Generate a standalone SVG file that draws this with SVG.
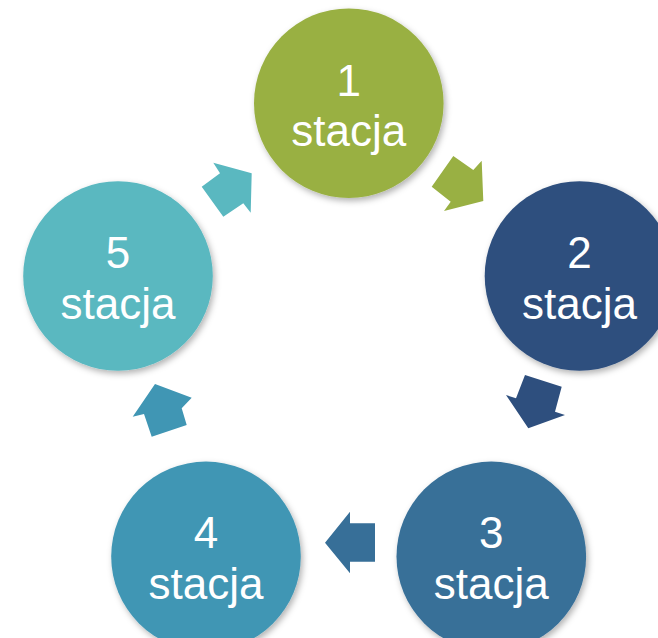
<svg xmlns="http://www.w3.org/2000/svg" width="658" height="638" viewBox="0 0 658 638">
<defs>
<filter id="sh" x="-20%" y="-20%" width="150%" height="150%">
<feDropShadow dx="2" dy="3" stdDeviation="3" flood-color="#000" flood-opacity="0.3"/>
</filter>
</defs>
<style>
text{font-family:"Liberation Sans",Arial,sans-serif;font-size:44px;fill:#fff;text-anchor:middle}
</style>
<rect width="658" height="638" fill="#fff"/>
<g id="connectors">
<polygon fill="#99B043" points="453.3,156 473.3,170 481.7,160.7 483.3,201 444,211 450.7,201.7 431.7,186.7"/>
<polygon fill="#2E4F7E" points="525,375 561.7,386.7 555,411.7 565,415 528.3,428.3 506,395 516,398.3"/>
<polygon fill="#376F98" points="375,523.3 375,561.7 350,561.7 350,573.3 325,542.7 350,511.7 350,523.3"/>
<polygon fill="#4096B4" points="151.7,436.7 186.7,425 181.7,408.3 191.7,397.7 155,384 132.7,416.7 144,414"/>
<polygon fill="#5AB8C0" points="223.3,216.7 201.7,186.7 220,173.3 213.3,162.7 251.7,173.3 250.7,212.7 243.3,203.3"/>
</g>
<g id="node1">
<circle cx="348.8" cy="103.2" r="94.8" fill="#99B043" filter="url(#sh)"/>
<text x="348.8" y="95.7">1</text>
<text x="348.8" y="146">stacja</text>
</g>
<g id="node2">
<circle cx="579.5" cy="276" r="94.8" fill="#2E4F7E" filter="url(#sh)"/>
<text x="579.5" y="268">2</text>
<text x="579.5" y="319">stacja</text>
</g>
<g id="node3">
<circle cx="491.3" cy="556.4" r="94.8" fill="#376F98" filter="url(#sh)"/>
<text x="491.3" y="548">3</text>
<text x="491.3" y="598.5">stacja</text>
</g>
<g id="node4">
<circle cx="206" cy="556.4" r="94.8" fill="#4096B4" filter="url(#sh)"/>
<text x="206" y="548">4</text>
<text x="206" y="598.5">stacja</text>
</g>
<g id="node5">
<circle cx="118" cy="276" r="94.8" fill="#5AB8C0" filter="url(#sh)"/>
<text x="118" y="268">5</text>
<text x="118" y="319">stacja</text>
</g>
</svg>
